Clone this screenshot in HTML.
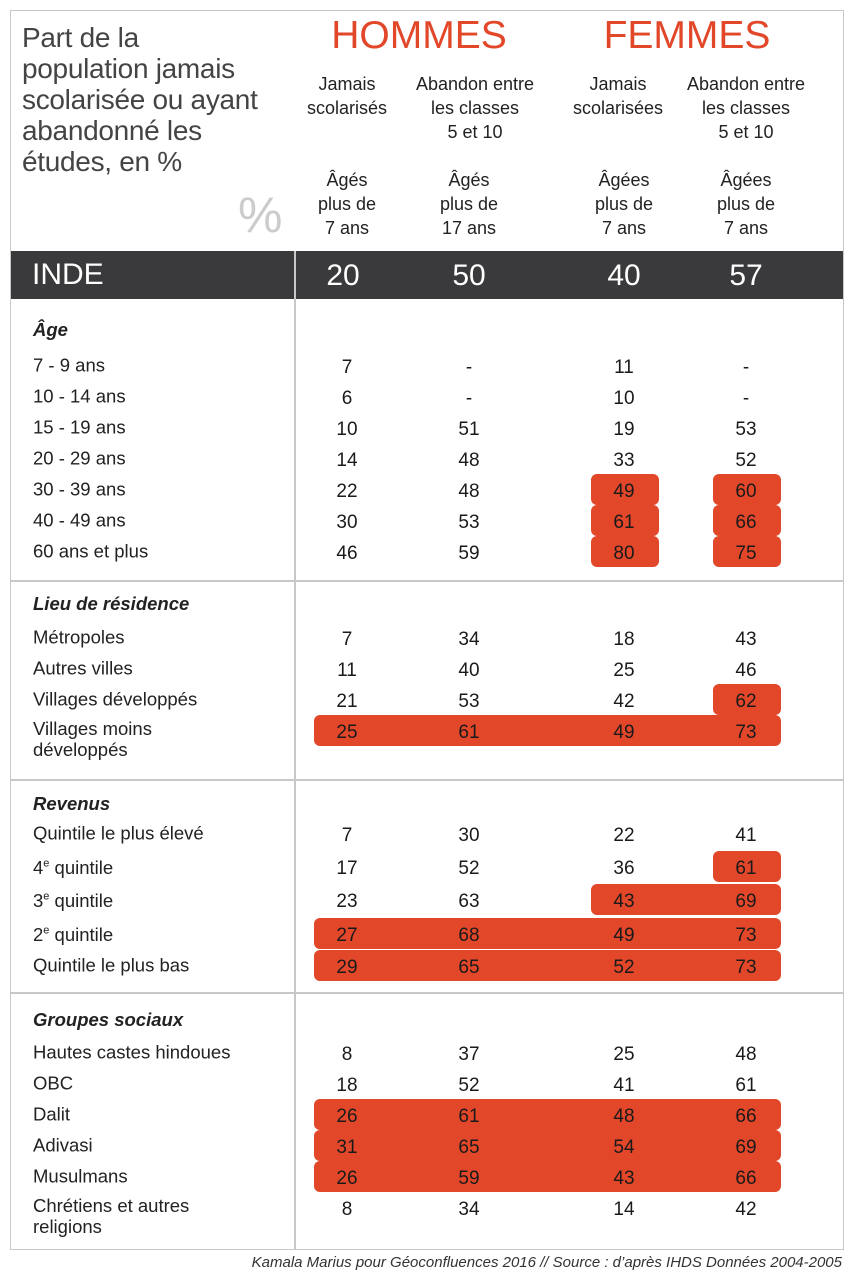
<!DOCTYPE html>
<html><head><meta charset="utf-8">
<style>
body{margin:0;width:854px;height:1285px;background:#fff;font-family:"Liberation Sans",sans-serif;color:#222;position:relative;overflow:hidden}
.a{position:absolute}
.t{position:absolute;white-space:nowrap}
.c{transform:translateX(-50%);text-align:center}
.hl{position:absolute;background:#e2472a;border-radius:6px}
.val{position:absolute;font-size:19px;transform:translate(-50%,-50%);color:#1a1a1a}
.lab{position:absolute;font-size:18.5px;left:33px;transform:translateY(-55%);color:#222;line-height:21px}
.sec{position:absolute;font-size:18.5px;left:33px;font-weight:bold;font-style:italic;transform:translateY(-50%)}
.sub{font-size:18px;line-height:24px;color:#222}
</style></head><body>
<div class="a" style="left:10px;top:10px;width:832px;height:1238px;border:1px solid #c8c8c8"></div>
<div class="t" style="left:22px;top:22px;font-size:28px;line-height:31px;color:#444;letter-spacing:-0.3px">Part de la<br>population jamais<br>scolarisée ou ayant<br>abandonné les<br>études, en %</div>
<div class="t" style="left:238px;top:186px;font-size:50px;color:#ccc">%</div>
<div class="t c" style="left:419px;top:14px;font-size:39px;color:#e2472a">HOMMES</div>
<div class="t c" style="left:687px;top:14px;font-size:39px;color:#e2472a">FEMMES</div>
<div class="t c sub" style="left:347px;top:72px">Jamais<br>scolarisés</div>
<div class="t c sub" style="left:475px;top:72px">Abandon entre<br>les classes<br>5 et 10</div>
<div class="t c sub" style="left:618px;top:72px">Jamais<br>scolarisées</div>
<div class="t c sub" style="left:746px;top:72px">Abandon entre<br>les classes<br>5 et 10</div>
<div class="t c sub" style="left:347px;top:168px">Âgés<br>plus de<br>7 ans</div>
<div class="t c sub" style="left:469px;top:168px">Âgés<br>plus de<br>17 ans</div>
<div class="t c sub" style="left:624px;top:168px">Âgées<br>plus de<br>7 ans</div>
<div class="t c sub" style="left:746px;top:168px">Âgées<br>plus de<br>7 ans</div>
<div class="a" style="left:11px;top:251px;width:832px;height:48px;background:#3a3a3c"></div>
<div class="t" style="left:32px;top:258px;font-size:30px;color:#fff">INDE</div>
<div class="a" style="left:294px;top:251px;width:2px;height:998px;background:#c8c8c8"></div>
<div class="a" style="left:11px;top:580px;width:832px;height:2px;background:#c8c8c8"></div>
<div class="a" style="left:11px;top:779px;width:832px;height:2px;background:#c8c8c8"></div>
<div class="a" style="left:11px;top:992px;width:832px;height:2px;background:#c8c8c8"></div>
<div class="t" style="right:12px;top:1254px;font-size:15px;font-style:italic;color:#333">Kamala Marius pour Géoconfluences 2016 // Source : d’après IHDS Données 2004-2005</div>
<div id="root"></div>
<script>
const indeValues=["20","50","40","57"];
const sections=["Âge","Lieu de résidence","Revenus","Groupes sociaux"];
const rowLabels=[
["7 - 9 ans","10 - 14 ans","15 - 19 ans","20 - 29 ans","30 - 39 ans","40 - 49 ans","60 ans et plus"],
["Métropoles","Autres villes","Villages développés","Villages moins<br>développés"],
["Quintile le plus élevé","4<sup style='font-size:11px'>e</sup> quintile","3<sup style='font-size:11px'>e</sup> quintile","2<sup style='font-size:11px'>e</sup> quintile","Quintile le plus bas"],
["Hautes castes hindoues","OBC","Dalit","Adivasi","Musulmans","Chrétiens et autres<br>religions"]];
const rowValues=[
[["7","-","11","-"],["6","-","10","-"],["10","51","19","53"],["14","48","33","52"],["22","48","49","60"],["30","53","61","66"],["46","59","80","75"]],
[["7","34","18","43"],["11","40","25","46"],["21","53","42","62"],["25","61","49","73"]],
[["7","30","22","41"],["17","52","36","61"],["23","63","43","69"],["27","68","49","73"],["29","65","52","73"]],
[["8","37","25","48"],["18","52","41","61"],["26","61","48","66"],["31","65","54","69"],["26","59","43","66"],["8","34","14","42"]]];
// highlighted column ranges [section,row,fromCol,toCol]
const highlights=[[0,4,2,2],[0,4,3,3],[0,5,2,2],[0,5,3,3],[0,6,2,2],[0,6,3,3],[1,2,3,3],[1,3,0,3],[2,1,3,3],[2,2,2,3],[2,3,0,3],[2,4,0,3],[3,2,0,3],[3,3,0,3],[3,4,0,3]];
// layout
const colX=[347,469,624,746];
const secY=[330,604,804,1020];
const rowY=[[366,397,428,459,490,521,552],[638,669,700,731],[834,867,900,934,966],[1053,1084,1115,1146,1177,1208]];
const root=document.getElementById('root');
indeValues.forEach((v,i)=>{const d=document.createElement('div');


d.className='val';d.style.cssText=`left:${colX[i]-4*(i==0)}px;top:276px;font-size:30px;color:#fff`;d.textContent=v;root.appendChild(d);});
highlights.forEach(h=>{const y=rowY[h[0]][h[1]];const d=document.createElement('div');


d.className='hl';const l=colX[h[2]]-33,r=colX[h[3]]+35;d.style.cssText=`left:${l}px;top:${y-16}px;width:${r-l}px;height:31px`;root.appendChild(d);});
sections.forEach((s,si)=>{const d=document.createElement('div');


d.className='sec';d.style.top=secY[si]+'px';d.textContent=s;root.appendChild(d);
rowLabels[si].forEach((lb,ri)=>{const y=rowY[si][ri];const two=lb.includes('<br>');const e=document.createElement('div');


e.className='lab';e.style.top=(two?y+8:y)+'px';if(two)e.style.transform='translateY(-50%)';e.innerHTML=lb;root.appendChild(e);
rowValues[si][ri].forEach((v,ci)=>{const c=document.createElement('div');


c.className='val';c.style.left=colX[ci]+'px';c.style.top=(y+2)+'px';c.textContent=v;root.appendChild(c);});});});
</script>
</body></html>
